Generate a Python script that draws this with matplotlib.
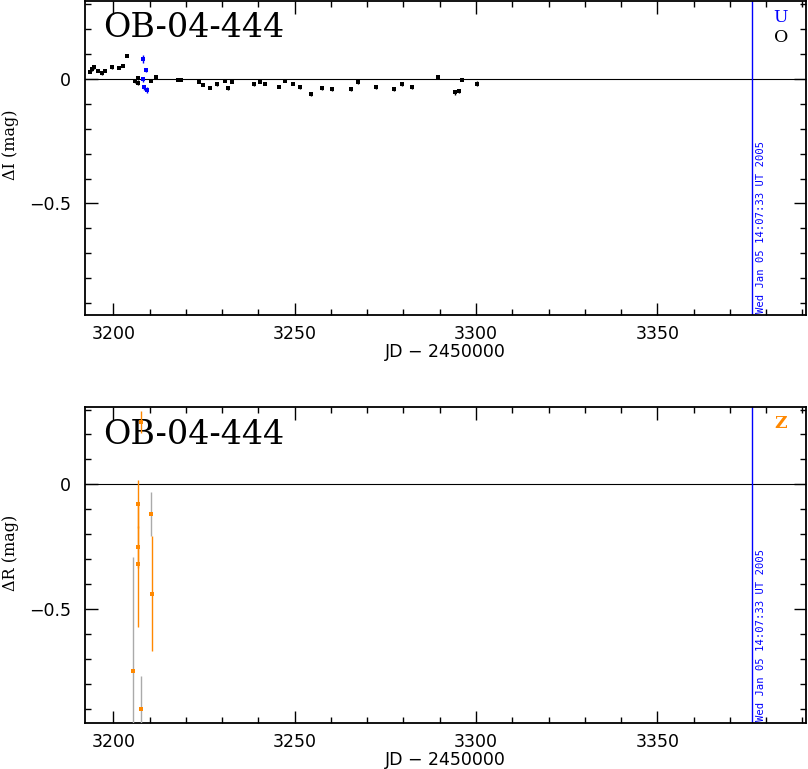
import matplotlib
matplotlib.use("Agg")
import matplotlib.pyplot as plt
from matplotlib.ticker import MultipleLocator, FuncFormatter

# ---------------- data ----------------
title = "OB-04-444"
date_text = "Wed Jan 05 14:07:33 UT 2005"
now_jd = 3376.09

# I band, "O" (black)
o_jd = [3193.6, 3194.2, 3194.8, 3195.7, 3196.8, 3197.7, 3199.7, 3201.6, 3202.7, 3203.7,
        3206.0, 3206.7, 3206.9, 3210.5, 3211.7, 3217.9, 3218.8, 3223.6, 3224.7, 3226.6,
        3228.6, 3230.7, 3231.6, 3232.6, 3238.7, 3240.5, 3241.7, 3245.6, 3247.4, 3249.5,
        3251.6, 3254.5, 3257.5, 3260.4, 3265.5, 3267.5, 3272.5, 3277.4, 3279.5, 3282.5,
        3289.4, 3294.3, 3295.4, 3296.2, 3300.3]
o_mag = [0.029, 0.039, 0.047, 0.032, 0.023, 0.032, 0.047, 0.045, 0.052, 0.094,
         -0.008, -0.017, 0.003, -0.007, 0.007, -0.004, -0.004, -0.011, -0.024, -0.035,
         -0.021, -0.008, -0.037, -0.011, -0.021, -0.011, -0.020, -0.031, -0.007, -0.020,
         -0.033, -0.060, -0.037, -0.041, -0.041, -0.013, -0.033, -0.041, -0.021, -0.033,
         0.009, -0.053, -0.047, -0.004, -0.020]
o_err = [0.006, 0.006, 0.006, 0.005, 0.006, 0.005, 0.006, 0.006, 0.006, 0.006,
         0.008, 0.008, 0.006, 0.006, 0.006, 0.006, 0.006, 0.006, 0.006, 0.006,
         0.007, 0.006, 0.008, 0.006, 0.007, 0.006, 0.006, 0.006, 0.006, 0.006,
         0.007, 0.008, 0.006, 0.007, 0.006, 0.007, 0.006, 0.006, 0.006, 0.006,
         0.006, 0.010, 0.008, 0.006, 0.010]

# I band, "U" (blue)
u_jd = [3208.2, 3208.9, 3208.2, 3208.5, 3209.2]
u_mag = [0.080, 0.036, -0.001, -0.033, -0.044]
u_err = [0.016, 0.008, 0.010, 0.010, 0.012]

# R band, "Z" (orange) - bars drawn in orange
z_jd = [3207.6, 3206.9, 3206.7, 3206.7, 3210.8]
z_mag = [0.251, -0.079, -0.250, -0.320, -0.438]
z_err = [0.045, 0.095, 0.085, 0.250, 0.230]

# R band, "Z" points whose bars are drawn in grey
zg_jd = [3205.5, 3207.6, 3210.5]
zg_mag = [-0.750, -0.900, -0.119]
zg_err = [0.460, 0.130, 0.090]

xlabel = "JD \u2212 2450000"
ylabels = ["\u0394I (mag)", "\u0394R (mag)"]

# ---------------- style ----------------
BLUE = "#0000ff"
ORANGE = "#ff8800"
GREY = "#aaaaaa"

W, H = 808, 769
fig = plt.figure(figsize=(W / 100, H / 100), dpi=100)
ax1 = fig.add_axes([85 / W, 1 - 315 / H, 721 / W, 314.5 / H])
ax2 = fig.add_axes([85 / W, 1 - 723.3 / H, 721 / W, 316 / H])


def fmt(v, pos):
    if abs(v) < 1e-9:
        return "0"
    return ("%g" % v).replace("-", "\u2212")


for ax, ylab, ylim in [(ax1, ylabels[0], (-0.948, 0.315)), (ax2, ylabels[1], (-0.958, 0.309))]:
    ax.set_xlim(3192.2, 3391.0)
    ax.set_ylim(*ylim)
    ax.xaxis.set_major_locator(MultipleLocator(50))
    ax.xaxis.set_minor_locator(MultipleLocator(10))
    ax.yaxis.set_major_locator(MultipleLocator(0.5))
    ax.yaxis.set_minor_locator(MultipleLocator(0.1))
    ax.xaxis.set_major_formatter(FuncFormatter(lambda v, p: "%d" % round(v)))
    ax.yaxis.set_major_formatter(FuncFormatter(fmt))
    ax.tick_params(which="both", direction="in", top=True, right=True, colors="black")
    ax.tick_params(which="major", length=9, width=1.0, labelsize=12.5)
    ax.tick_params(which="minor", length=4.5, width=1.0)
    ax.tick_params(axis="x", which="major", pad=7)
    ax.tick_params(axis="y", which="major", pad=10)
    for sp in ax.spines.values():
        sp.set_linewidth(1.3)
    ax.axhline(0, color="black", lw=0.8, zorder=1)
    ax.axvline(now_jd, color=BLUE, lw=1.0, zorder=1)
    ax.text(now_jd + 1.2, 0.006, date_text, transform=ax.get_xaxis_transform(),
            rotation=90, ha="left", va="bottom", color=BLUE, fontsize=7.6,
            family="DejaVu Sans Mono")
    ax.text(0.025, 0.884, title, transform=ax.transAxes, ha="left", va="baseline",
            fontsize=24, family="DejaVu Serif")
    ax.set_xlabel(xlabel, fontsize=12.5, labelpad=0)
    ax.set_ylabel(ylab, fontsize=11.5, family="DejaVu Serif")
    ax.yaxis.set_label_coords(-0.092, 0.54)

# top panel data
ax1.errorbar(o_jd, o_mag, yerr=o_err, fmt="s", color="black", ms=2.8, mew=0,
             elinewidth=1.0, capsize=1.2, capthick=1.0, zorder=3)
ax1.errorbar(u_jd, u_mag, yerr=u_err, fmt="s", color=BLUE, ms=2.8, mew=0,
             elinewidth=1.0, capsize=1.2, capthick=1.0, zorder=3)

# bottom panel data
ax2.errorbar(zg_jd, zg_mag, yerr=zg_err, fmt="s", color=ORANGE, ecolor=GREY, ms=2.8, mew=0,
             elinewidth=1.0, capsize=1.2, capthick=1.0, zorder=3)
ax2.errorbar(z_jd, z_mag, yerr=z_err, fmt="s", color=ORANGE, ms=2.8, mew=0,
             elinewidth=1.0, capsize=1.2, capthick=1.0, zorder=3)

# legend letters, placed in figure pixels (from top-left)
def pix_text(x, y, s, color, **kw):
    fig.text(x / W, 1 - y / H, s, color=color, fontsize=12.5, family="DejaVu Serif",
             ha="center", va="center", **kw)

pix_text(781, 18, "U", BLUE)
pix_text(781, 38, "O", "black")
pix_text(781, 423, "Z", ORANGE, fontweight="bold")

fig.savefig("out.png", dpi=100)
